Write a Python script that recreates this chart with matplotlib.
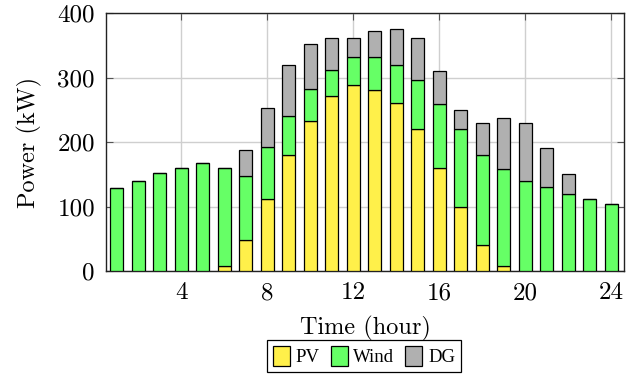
import matplotlib
matplotlib.use('Agg')
import matplotlib.pyplot as plt
import numpy as np

# hourly power mix (kW)
hours = np.arange(1, 25)
pv = [0, 0, 0, 0, 0, 8, 48, 112, 180, 232, 272, 288,
      280, 260, 220, 160, 100, 40, 8, 0, 0, 0, 0, 0]
wind = [128, 140, 152, 160, 168, 152, 100, 80, 60, 50, 40, 44,
        52, 60, 76, 99, 120, 140, 150, 140, 130, 120, 112, 104]
dg = [0, 0, 0, 0, 0, 0, 40, 60, 80, 70, 50, 30,
      40, 55, 65, 51, 30, 50, 80, 90, 60, 30, 0, 0]

COLORS = {'PV': '#FFF04A', 'Wind': '#66FF66', 'DG': '#B0B0B0'}

plt.rcParams['font.family'] = ['cmr10']
plt.rcParams['axes.unicode_minus'] = False
plt.rcParams['mathtext.fontset'] = 'cm'

fig = plt.figure(figsize=(6.33, 3.77), dpi=100)
ax = fig.add_axes([0.1675, 0.281, 0.8185, 0.6845])

w = 0.6
pv = np.array(pv); wind = np.array(wind); dg = np.array(dg)
kw = dict(width=w, edgecolor='black', linewidth=0.9, zorder=3)
ax.bar(hours, pv, color=COLORS['PV'], label='PV', **kw)
ax.bar(hours, wind, bottom=pv, color=COLORS['Wind'], label='Wind', **kw)
ax.bar(hours, dg, bottom=pv + wind, color=COLORS['DG'], label='DG', **kw)

ax.set_xlim(0.5, 24.6)
ax.set_ylim(0, 400)
ax.set_xticks([4, 8, 12, 16, 20, 24])
ax.set_yticks([0, 100, 200, 300, 400])
ax.grid(True, color='#cfcfcf', lw=1, zorder=0)
ax.set_axisbelow(True)
ax.tick_params(direction='in', top=True, right=True, length=5,
               labelsize=18, color='#555555', pad=8)
for s in ax.spines.values():
    s.set_linewidth(1.0)
    s.set_color('#222222')
ax.set_ylabel('Power (kW)', fontsize=17.5, labelpad=11)
ax.set_xlabel('Time (hour)', fontsize=17.5, labelpad=8)

leg = fig.legend(loc='center', bbox_to_anchor=(0.575, 0.056), ncol=3,
                 fancybox=False, edgecolor='black', framealpha=1,
                 prop={'family': 'Liberation Serif', 'size': 13.5},
                 handlelength=0.9, handleheight=1.3, handletextpad=0.3,
                 columnspacing=0.6, borderpad=0.3)
leg.get_frame().set_linewidth(0.9)

fig.savefig('out.png', dpi=100)
